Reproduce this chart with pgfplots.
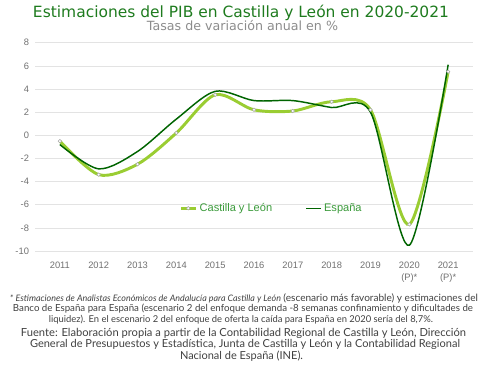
\documentclass[border=0pt]{standalone}
\usepackage{fontspec}
\setmainfont{Liberation Sans}
\newfontfamily\titlefont{DejaVu Sans}
\newfontfamily\notefont{Lato}
\usepackage{pgfplots}
\pgfplotsset{compat=1.18}
\definecolor{cyl}{HTML}{9ACD32}
\definecolor{esp}{HTML}{006400}
\definecolor{ttl}{HTML}{1E7B1E}
\definecolor{sub}{HTML}{8C8C8C}
\definecolor{tickc}{HTML}{707070}
\definecolor{legc}{HTML}{3A9A3A}
\definecolor{notec}{HTML}{404040}
\begin{document}
\begin{tikzpicture}
\path[use as bounding box] (0,0) rectangle (363pt,273pt);
\begin{axis}[
  at={(26.25pt,84.75pt)}, anchor=south west,
  scale only axis, width=328.5pt, height=156.2pt,
  xmin=-0.64, xmax=10.64, ymin=-10, ymax=8,
  ytick={-10,-8,...,8},
  xtick={0,...,10},
  xticklabels={2011,2012,2013,2014,2015,2016,2017,2018,2019,{2020\\(P)*},{2021\\(P)*}},
  xticklabel style={align=center, font=\fontsize{7}{9}\selectfont, text=tickc, yshift=-4.5pt},
  yticklabel style={font=\fontsize{7}{9}\selectfont, text=tickc, xshift=-1pt},
  /pgf/number format/assume math mode=true,
  axis line style={draw=none},
  major tick length=0pt,
  ymajorgrids, grid style={gray!22, line width=0.5pt},
  legend style={at={(0.541,0.205)}, anchor=center, draw=none, fill=none,
    font=\fontsize{8.3}{10}\selectfont, text=legc,
    /tikz/every even column/.append style={column sep=23pt},
    /tikz/every odd column/.append style={column sep=0pt}},
  legend columns=2,
  legend cell align=left,
  legend image code/.code={\draw[mark repeat=2,mark phase=2,#1] plot coordinates {(0cm,0cm) (0.19cm,0cm) (0.38cm,0cm)};},
]
\addplot[color=cyl, line width=2.2pt, smooth, tension=0.5, mark=*, mark size=1.3pt,
  mark options={fill=white, draw=gray!70, line width=0.4pt}]
  coordinates {(0,-0.5) (1,-3.4) (2,-2.5) (3,0.2) (4,3.5) (5,2.2) (6,2.1) (7,2.9) (8,2.2) (9,-7.7) (10,5.5)};
\addlegendentry{Castilla y León}
\addplot[color=esp, line width=1.1pt, smooth, tension=0.5]
  coordinates {(0,-0.8) (1,-2.9) (2,-1.4) (3,1.4) (4,3.8) (5,3.0) (6,3.0) (7,2.4) (8,2.0) (9,-9.5) (10,6.1)};
\addlegendentry{España}
\end{axis}
\node[text=ttl, inner sep=0] at (180.75pt,263.25pt) {\resizebox{312pt}{!}{\titlefont\fontsize{13}{15}\selectfont Estimaciones del PIB en Castilla y León en 2020-2021}};
\node[text=sub, inner sep=0] at (181.875pt,253.5pt) {\resizebox{143.25pt}{!}{\titlefont\fontsize{8.5}{10}\selectfont Tasas de variación anual en \%}};
\begin{scope}[every node/.style={text=notec, inner sep=0}]
\node at (183pt,49.5pt) {\resizebox{351pt}{!}{\notefont\fontsize{7}{8}\selectfont{\itshape\fontsize{6.2}{8}\selectfont * Estimaciones de Analistas Económicos de Andalucía para Castilla y León} (escenario más favorable) y estimaciones del}};
\node at (182.25pt,41.25pt) {\resizebox{345pt}{!}{\notefont\fontsize{7}{8}\selectfont Banco de España para España (escenario 2 del enfoque demanda -8 semanas confinamiento y dificultades de}};
\node at (180.75pt,33pt) {\resizebox{288pt}{!}{\notefont\fontsize{7}{8}\selectfont liquidez). En el escenario 2 del enfoque de oferta la caída para España en 2020 sería del 8,7\%.}};
\node at (182.625pt,23.25pt) {\resizebox{333.75pt}{!}{\notefont\fontsize{8.3}{10}\selectfont Fuente: Elaboración propia a partir de la Contabilidad Regional de Castilla y León, Dirección}};
\node at (183.75pt,14.625pt) {\resizebox{322.5pt}{!}{\notefont\fontsize{8.3}{10}\selectfont General de Presupuestos y Estadística, Junta de Castilla y León y la Contabilidad Regional}};
\node at (181.125pt,6pt) {\resizebox{92.25pt}{!}{\notefont\fontsize{8.3}{10}\selectfont Nacional de España (INE).}};
\end{scope}
\end{tikzpicture}
\end{document}
